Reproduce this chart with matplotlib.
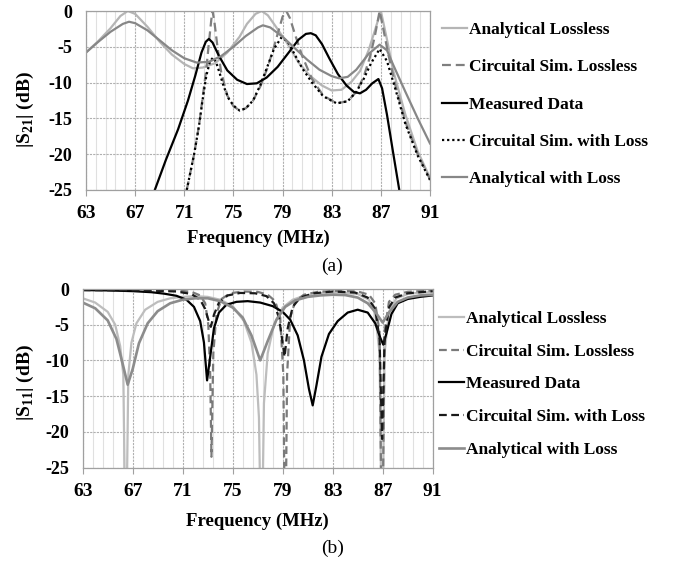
import matplotlib
matplotlib.use("Agg")
import matplotlib.pyplot as plt
from matplotlib.ticker import AutoMinorLocator

plt.rcParams['font.family'] = ['Liberation Serif', 'DejaVu Serif']
plt.rcParams['mathtext.fontset'] = 'custom'
plt.rcParams['mathtext.rm'] = 'Liberation Serif'
plt.rcParams['mathtext.bf'] = 'Liberation Serif:bold'
plt.rcParams['axes.unicode_minus'] = False

# ---- (a) |S21| ----
al21_f = [63, 64, 65, 65.8, 66.4, 67, 68, 69, 70, 71, 71.7, 72.5, 73.5, 74.5, 75.5, 76.1, 76.8, 77.3, 77.8, 78.5,
          79.3, 80.3, 81.2, 82.2, 83.0, 83.8, 84.6, 85.3, 86, 86.5, 87, 87.5, 88, 89, 90, 91]
al21_db = [-5.8, -4.2, -2.4, -0.7, 0, -0.4, -2.2, -4.3, -6.1, -7.4, -8.0, -7.9, -7.3, -5.8, -3.6, -1.8, -0.4, 0, -0.6, -2.3,
           -4.3, -7.2, -9.0, -10.4, -11.1, -11.0, -9.9, -8.4, -5.5, -2.8, 0, -4.0, -8.3, -14.5, -19.6, -23.3]

cl21_f = [71.2, 71.8, 72.2, 72.5, 72.8, 73.0, 73.2, 73.3, 73.45, 73.7, 74.0, 74.5, 75.0, 75.5, 76.0, 76.6, 77.2, 77.8,
          78.3, 78.7, 79.0, 79.3, 79.6, 80.0, 80.6, 81.4, 82.3, 83.4, 84.3, 85.0, 85.6, 86.1, 86.5, 86.9, 87.2, 87.6,
          88.2, 89.0, 90.0, 91.0]
cl21_db = [-25, -20, -16, -12, -8, -4.5, -1.2, 0, -1.5, -5.0, -8.5, -11.8, -13.3, -13.9, -13.6, -12.5, -10.5, -7.8,
           -5.0, -2.6, -0.8, 0, -1.0, -3.2, -6.3, -9.5, -11.8, -12.9, -12.6, -11.3, -9.2, -6.5, -3.6, 0, -2.5, -6.0,
           -10.5, -15.5, -20.0, -23.5]

m21_f = [68.6, 69.5, 70.5, 71.3, 71.9, 72.4, 72.75, 73.0, 73.3, 73.8, 74.5, 75.3, 76.1, 76.9, 77.7, 78.6, 79.5, 80.3,
         80.9, 81.3, 81.7, 82.2, 82.8, 83.5, 84.2, 84.8, 85.3, 85.8, 86.3, 86.8, 87.1, 87.5, 88.0, 88.5]
m21_db = [-25, -20.8, -16.5, -12.5, -9.0, -5.8, -4.3, -3.9, -4.4, -6.2, -8.3, -9.6, -10.2, -10.1, -9.3, -7.8, -5.8, -4.0,
          -3.2, -3.1, -3.4, -4.6, -6.6, -8.8, -10.4, -11.3, -11.5, -11.0, -10.1, -9.5, -10.8, -14.5, -19.8, -25]

cw21_f = [71.2, 71.8, 72.2, 72.5, 72.8, 73.1, 73.35, 73.6, 73.9, 74.2, 74.6, 75.0, 75.5, 76.0, 76.6, 77.2, 77.8, 78.3,
          78.9, 79.4, 79.9, 80.6, 81.4, 82.3, 83.4, 84.3, 85.0, 85.6, 86.2, 86.9, 87.5, 88.2, 89.0, 90.0, 91.0]
cw21_db = [-25, -20, -16, -12.3, -9, -7.0, -6.5, -7.2, -8.8, -10.5, -12.2, -13.2, -13.9, -13.6, -12.5, -10.3, -7.6, -5.3,
           -3.7, -4.2, -5.8, -8.0, -10.0, -11.9, -12.9, -12.6, -11.3, -9.5, -7.3, -5.3, -7.0, -11.0, -15.8, -20.2, -23.6]

aw21_f = [63, 64, 65, 66, 66.5, 67, 68, 69, 70, 71, 72, 73, 74, 75, 76, 77, 77.4, 78, 79, 80, 81, 82, 83, 83.6, 84.3,
          85, 86, 86.9, 87.5, 88, 89, 90, 91]
aw21_db = [-5.8, -4.3, -2.9, -1.8, -1.5, -1.7, -2.7, -4.1, -5.5, -6.6, -7.2, -7.1, -6.3, -5.0, -3.5, -2.3, -2.0, -2.3,
           -3.6, -5.2, -6.8, -8.2, -9.1, -9.4, -9.2, -8.2, -6.0, -4.7, -5.5, -7.5, -11.3, -15.0, -18.5]

# ---- (b) |S11| ----
al11_f = [63, 64, 65, 65.6, 66.0, 66.25, 66.45, 66.65, 66.9, 67.3, 68, 69, 70, 71, 72, 73, 74, 75, 75.9, 76.5, 76.9,
          77.1, 77.3, 77.5, 77.8, 78.3, 79.0, 79.8, 80.8, 82, 83.5, 85, 85.9, 86.4, 86.75, 86.95, 87.15, 87.5, 88.1, 89,
          90, 91]
al11_db = [-1.3, -1.9, -3.2, -5.0, -8.0, -12, -40, -12, -7.5, -4.8, -2.9, -1.8, -1.3, -1.1, -1.0, -1.1, -1.5, -2.4, -4.5,
           -7.5, -12, -18, -40, -16, -9, -5, -2.6, -1.5, -0.9, -0.6, -0.5, -0.7, -1.5, -3.5, -9, -40, -9, -3.2, -1.3,
           -0.7, -0.5, -0.45]

cl11_f = [63, 68, 70.5, 71.7, 72.4, 72.8, 73.05, 73.2, 73.3, 73.45, 73.7, 74.1, 74.8, 75.8, 77, 77.8, 78.4, 78.8, 79.05,
          79.2, 79.35, 79.6, 80.0, 80.7, 81.8, 83.5, 85, 85.9, 86.4, 86.75, 86.95, 87.15, 87.5, 88.0, 89, 91]
cl11_db = [-0.1, -0.12, -0.2, -0.4, -0.9, -2.0, -5, -12, -23.5, -9, -3.5, -1.4, -0.6, -0.35, -0.4, -0.8, -1.7, -4, -12,
           -40, -12, -4, -1.7, -0.8, -0.4, -0.25, -0.35, -0.8, -2.0, -6, -40, -6, -1.8, -0.8, -0.4, -0.2]

m11_f = [63, 65, 67, 68.5, 69.5, 70.5, 71.3, 71.9, 72.4, 72.7, 72.95, 73.2, 73.5, 73.9, 74.5, 75.3, 76.2, 77.2, 78.2,
         79.0, 79.6, 80.2, 80.7, 81.1, 81.4, 81.7, 82.1, 82.7, 83.4, 84.2, 85.0, 85.8, 86.4, 86.8, 87.05, 87.3, 87.7,
         88.2, 89, 90, 91]
m11_db = [-0.15, -0.2, -0.3, -0.45, -0.65, -0.95, -1.5, -2.5, -4.5, -7.5, -12.8, -9.5, -5.5, -3.3, -2.2, -1.8, -1.7,
          -1.9, -2.4, -3.2, -4.3, -6.5, -10, -14, -16.3, -13.5, -9.5, -6.3, -4.5, -3.3, -2.9, -3.3, -4.8, -6.8, -7.8,
          -6.2, -3.5, -2.0, -1.4, -1.1, -0.9]

cw11_f = [63, 68, 70.5, 71.7, 72.4, 72.8, 73.05, 73.25, 73.5, 73.9, 74.6, 75.6, 76.8, 77.7, 78.3, 78.7, 78.95, 79.15,
          79.4, 79.8, 80.4, 81.5, 83, 84.8, 85.8, 86.4, 86.75, 86.95, 87.15, 87.5, 88.0, 89, 91]
cw11_db = [-0.15, -0.2, -0.35, -0.7, -1.5, -2.8, -4.3, -5.3, -3.6, -1.9, -0.9, -0.55, -0.6, -1.0, -2.0, -4.0, -7.0,
           -9.5, -5.5, -2.5, -1.2, -0.6, -0.35, -0.5, -1.2, -2.8, -7, -21, -7, -2.6, -1.2, -0.6, -0.3]

aw11_f = [63, 64, 65, 65.7, 66.2, 66.6, 67.0, 67.5, 68.2, 69, 70, 71, 72, 73, 74, 75, 75.8, 76.5, 77.2, 77.8, 78.5,
          79.2, 80, 81, 82, 83, 84, 85, 85.8, 86.4, 87.0, 87.5, 88.2, 89, 90, 91]
aw11_db = [-1.9, -2.7, -4.4, -7.0, -10.5, -13.4, -11.2, -7.6, -4.8, -3.1, -2.0, -1.5, -1.3, -1.3, -1.7, -2.6, -4.0,
           -6.5, -10.0, -7.3, -4.3, -2.5, -1.6, -1.1, -0.9, -0.8, -0.85, -1.2, -2.0, -3.2, -4.7, -3.3, -1.8, -1.2, -0.9,
           -0.8]

labels = ['Analytical Lossless', 'Circuital Sim. Lossless', 'Measured Data',
          'Circuital Sim. with Loss', 'Analytical with Loss']
x_ticks = [63, 67, 71, 75, 79, 83, 87, 91]
y_ticks = [0, -5, -10, -15, -20, -25]

fig = plt.figure(figsize=(6.8, 5.63), dpi=100)
ax1 = fig.add_axes([86 / 680, 1 - 190 / 563, 344 / 680, 179 / 563])
ax2 = fig.add_axes([82.7 / 680, 1 - 467.5 / 563, 350 / 680, 178.5 / 563])

lw = 1.6
# top panel
ax1.plot(al21_f, al21_db, color='#b5b5b5', lw=lw, label=labels[0])
ax1.plot(cl21_f, cl21_db, color='#7f7f7f', lw=lw, ls=(0, (4, 2.2)), label=labels[1])
ax1.plot(m21_f, m21_db, color='black', lw=lw, label=labels[2])
ax1.plot(cw21_f, cw21_db, color='black', lw=lw, ls=(0, (1, 1.3)), label=labels[3])
ax1.plot(aw21_f, aw21_db, color='#878787', lw=lw, label=labels[4])

# bottom panel
ax2.plot(al11_f, al11_db, color='#bdbdbd', lw=lw, label=labels[0])
ax2.plot(cl11_f, cl11_db, color='#7a7a7a', lw=lw, ls=(0, (3.5, 2)), label=labels[1])
ax2.plot(m11_f, m11_db, color='black', lw=lw, label=labels[2])
ax2.plot(cw11_f, cw11_db, color='#1a1a1a', lw=lw, ls=(0, (3.5, 2)), label=labels[3])
ax2.plot(aw11_f, aw11_db, color='#8c8c8c', lw=lw * 1.2, label=labels[4])

for ax in (ax1, ax2):
    ax.set_xlim(63, 91)
    ax.set_ylim(-25, 0)
    ax.set_xticks(x_ticks)
    ax.set_yticks(y_ticks)
    ax.xaxis.set_minor_locator(AutoMinorLocator(5))
    ax.grid(which='major', axis='both', color='#b0b0b0', lw=0.8, ls=(0, (2, 1)))
    ax.grid(which='minor', axis='x', color='#e0e0e0', lw=0.8)
    ax.set_axisbelow(True)
    for sp in ax.spines.values():
        sp.set_color('#a0a0a0')
        sp.set_linewidth(0.9)
    ax.tick_params(axis='x', which='major', length=4, width=0.8, color='#a0a0a0', pad=7, labelsize=14)
    ax.tick_params(axis='x', which='minor', length=0)
    ax.tick_params(axis='y', length=0, pad=10, labelsize=13)
    for t in ax.get_xticklabels() + ax.get_yticklabels():
        t.set_fontweight('bold')
    ax.set_xlabel('Frequency (MHz)', fontsize=13.5, fontweight='bold')
    ax.xaxis.label.set_va('center')

ax1.set_ylabel(r'|S$_{\mathbf{21}}$| (dB)', fontsize=14, fontweight='bold')
ax2.set_ylabel(r'|S$_{\mathbf{11}}$| (dB)', fontsize=14, fontweight='bold')
ax1.yaxis.label.set_va('center')
ax2.yaxis.label.set_va('center')
ax1.yaxis.set_label_coords(-0.177, 0.447)
ax2.yaxis.set_label_coords(-0.165, 0.473)
ax1.xaxis.set_label_coords(0.5, -0.268)
ax2.xaxis.set_label_coords(0.5, -0.30)

leg_kw = dict(frameon=False, handlelength=1.45, handletextpad=0.1,
              borderpad=0, borderaxespad=0, prop={'weight': 'bold', 'size': 12.5})
h1, l1 = ax1.get_legend_handles_labels()
fig.legend(h1, l1, loc='upper left', bbox_to_anchor=(442 / 680, 1 - 22 / 563),
           labelspacing=1.22, **leg_kw)
h2, l2 = ax2.get_legend_handles_labels()
fig.legend(h2, l2, loc='upper left', bbox_to_anchor=(439 / 680, 1 - 311 / 563),
           labelspacing=0.95, **leg_kw)

fig.text(332 / 680, 1 - 266 / 563, '(a)', ha='center', va='center', fontsize=14)
fig.text(333 / 680, 1 - 548 / 563, '(b)', ha='center', va='center', fontsize=14)

fig.savefig('out.png', dpi=100, facecolor='white')
